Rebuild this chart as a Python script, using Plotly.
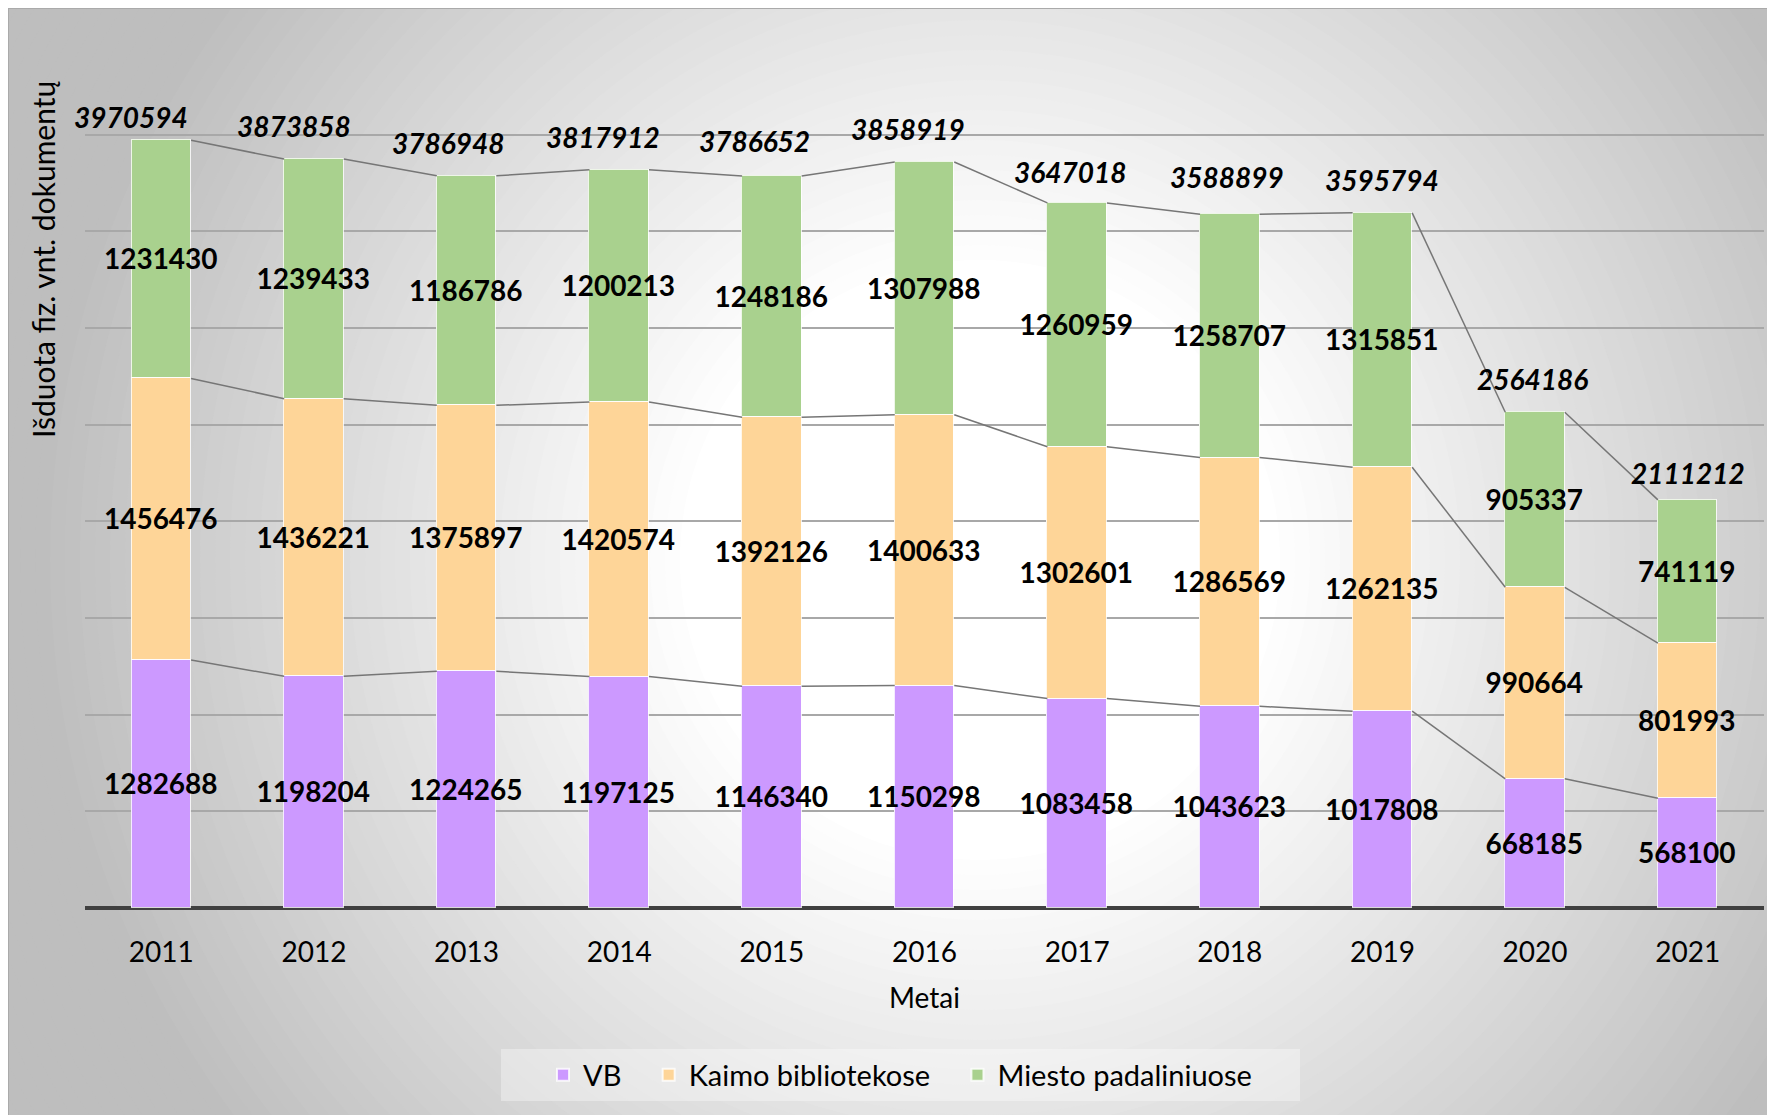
import plotly.graph_objects as go

years = ["2011", "2012", "2013", "2014", "2015", "2016", "2017", "2018", "2019", "2020", "2021"]
vb = [1282688, 1198204, 1224265, 1197125, 1146340, 1150298, 1083458, 1043623, 1017808, 668185, 568100]
kaimo = [1456476, 1436221, 1375897, 1420574, 1392126, 1400633, 1302601, 1286569, 1262135, 990664, 801993]
miesto = [1231430, 1239433, 1186786, 1200213, 1248186, 1307988, 1260959, 1258707, 1315851, 905337, 741119]
totals = [3970594, 3873858, 3786948, 3817912, 3786652, 3858919, 3647018, 3588899, 3595794, 2564186, 2111212]

# label nudges (px) for the italic totals, as placed in the original
tot_dx = [-30, -20, -19, -16, -17, -17, -7, -3, 0, -3, 0]
tot_dy = [23, 33, 33, 33, 35, 33, 31, 37, 33, 33, 27]

W, H = 1775, 1115
L, R, T, B = 77, 19, 30, 215
pw, ph = W - L - R, H - T - B
FONT = "Lato"
bw = 0.39
pad = "\u00a0" * 3

x = list(range(len(years)))

fig = go.Figure()
series = [("VB", vb, "#cc99ff"), ("Kaimo bibliotekose", kaimo, "#fed598"), ("Miesto padaliniuose", miesto, "#a9d18e")]
for k, (name, vals, col) in enumerate(series):
    fig.add_trace(go.Bar(x=x, y=vals, name=name + (pad if k < 2 else ""), width=bw, marker_color=col,
                         marker_line=dict(color="rgba(255,255,255,0.8)", width=1.5),
                         text=[str(v) for v in vals], textposition="inside", textangle=0,
                         insidetextanchor="middle", constraintext="none",
                         insidetextfont=dict(family=FONT, size=28, color="black", weight="bold")))

# series lines between bar tops
c1 = vb
c2 = [a + b for a, b in zip(vb, kaimo)]
c3 = [a + b + c for a, b, c in zip(vb, kaimo, miesto)]
lx, ly = [], []
for cum in (c1, c2, c3):
    for i in range(len(x) - 1):
        lx += [x[i] + bw / 2, x[i + 1] - bw / 2, None]
        ly += [cum[i], cum[i + 1], None]
fig.add_trace(go.Scatter(x=lx, y=ly, mode="lines", line=dict(color="#767676", width=1.5),
                         showlegend=False, hoverinfo="skip"))

for i, t in enumerate(totals):
    fig.add_annotation(x=x[i], y=c3[i], text="<b><i>%d</i></b>" % t, showarrow=False,
                       xshift=tot_dx[i], yshift=tot_dy[i], yanchor="middle",
                       font=dict(family=FONT, size=28, color="black"))

# background: radial grey gradient built from circles
def px2paper(px, py):
    return (px - L) / pw, (H - B - py) / ph

shapes = []
cx, cy = 972, 552
r = 1200
while r >= 280:
    d = max(r, 300)
    g = 255 - 0.1 * (d - 300)
    g = int(max(190, min(255, g)))
    x0, y1 = px2paper(cx - r, cy - r)
    x1, y0 = px2paper(cx + r, cy + r)
    shapes.append(dict(type="circle", xref="paper", yref="paper", x0=x0, x1=x1, y0=y0, y1=y1,
                       fillcolor="rgb(%d,%d,%d)" % (g, g, g), line_width=0, layer="below"))
    r -= 15
x0, y1 = px2paper(0, 0)
x1, y0 = px2paper(W + 5, H + 5)
shapes.append(dict(type="rect", xref="paper", yref="paper", x0=x0, x1=x1, y0=y0, y1=y1,
                   line=dict(color="#aaaaaa", width=2), layer="below"))
# legend box
x0, y1 = px2paper(493, 1041)
x1, y0 = px2paper(1292, 1093)
shapes.append(dict(type="rect", xref="paper", yref="paper", x0=x0, x1=x1, y0=y0, y1=y1,
                   fillcolor="rgba(255,255,255,0.35)", line_width=0, layer="below"))

tx, ty = px2paper(35, 252)
fig.add_annotation(xref="paper", yref="paper", x=tx, y=ty, text="Išduota fiz. vnt. dokumentų",
                   textangle=-90, showarrow=False, xanchor="center", yanchor="middle",
                   font=dict(family=FONT, size=30, color="black"))

lgx, lgy = px2paper(892, 1067)
fig.update_layout(
    width=W, height=H, barmode="stack", bargap=0,
    margin=dict(l=L, r=R, t=T, b=B, pad=0),
    paper_bgcolor="white", plot_bgcolor="rgba(0,0,0,0)",
    font=dict(family=FONT, size=28, color="black"),
    shapes=shapes,
    legend=dict(orientation="h", x=lgx, y=lgy, xanchor="center", yanchor="middle",
                bgcolor="rgba(0,0,0,0)", font=dict(family=FONT, size=29, color="black"),
                itemsizing="constant", traceorder="normal"),
)
fig.update_xaxes(range=[-0.5, len(x) - 0.5], tickvals=x, ticktext=years, showgrid=False,
                 ticks="outside", ticklen=19, tickcolor="rgba(0,0,0,0)",
                 tickfont=dict(family=FONT, size=28, color="black"),
                 title=dict(text="Metai", standoff=21, font=dict(family=FONT, size=28, color="black")))
fig.update_yaxes(range=[0, 4500000], dtick=500000, showticklabels=False, showgrid=True,
                 gridcolor="#a8a8a8", gridwidth=1.5, zeroline=True, zerolinecolor="#404040",
                 zerolinewidth=4)

fig.write_html("out.html")
